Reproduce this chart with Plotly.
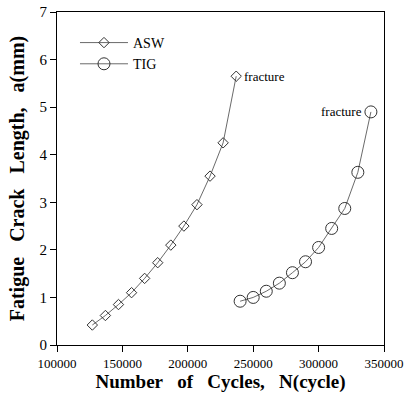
import plotly.graph_objects as go

asw_cycles = [127000, 137000, 147000, 157000, 167000, 177000, 187000, 197000, 207000, 217000, 227000, 237000]
asw_crack = [0.42, 0.62, 0.85, 1.10, 1.40, 1.73, 2.10, 2.50, 2.95, 3.55, 4.25, 5.65]
tig_cycles = [240000, 250000, 260000, 270000, 280000, 290000, 300000, 310000, 320000, 330000, 340000]
tig_crack = [0.92, 1.00, 1.13, 1.30, 1.52, 1.75, 2.05, 2.45, 2.87, 3.63, 4.90]
x_ticks = [100000, 150000, 200000, 250000, 300000, 350000]
y_ticks = [0, 1, 2, 3, 4, 5, 6, 7]

serif = "Liberation Serif, Times New Roman, serif"
sp = "&nbsp;&nbsp; "

fig = go.Figure()
fig.add_trace(go.Scatter(
    x=asw_cycles, y=asw_crack, name="ASW", mode="lines+markers",
    line=dict(color="#444", width=0.8),
    marker=dict(symbol="diamond-open", size=8, color="#333", line=dict(width=1)),
))
fig.add_trace(go.Scatter(
    x=tig_cycles, y=tig_crack, name="TIG", mode="lines+markers",
    line=dict(color="#444", width=0.8),
    marker=dict(symbol="circle-open", size=12, color="#333", line=dict(width=1)),
))

fig.add_annotation(x=asw_cycles[-1], y=asw_crack[-1], text="fracture", showarrow=False,
                   xanchor="left", xshift=6, font=dict(family=serif, size=13, color="black"))
fig.add_annotation(x=tig_cycles[-1], y=tig_crack[-1], text="fracture", showarrow=False,
                   xanchor="right", xshift=-7, font=dict(family=serif, size=13, color="black"))

axis_common = dict(
    showline=True, linecolor="black", linewidth=1, mirror=True, automargin=False,
    ticks="outside", ticklen=6, tickcolor="black", showgrid=False, zeroline=False,
)
fig.update_xaxes(range=[100000, 350000], tickvals=x_ticks, tickformat="d",
                 tickfont=dict(family=serif, size=13, color="black"),
                 title=dict(text="<b>Number" + sp + "of" + sp + "Cycles," + sp + "N(cycle)</b>",
                            font=dict(family=serif, size=19, color="black"), standoff=3),
                 **axis_common)
fig.update_yaxes(range=[0, 7], tickvals=y_ticks,
                 tickfont=dict(family=serif, size=15, color="black"),
                 title=dict(text="<b>Fatigue" + sp + "Crack" + sp + "Length," + sp + "a(mm)</b>",
                            font=dict(family=serif, size=20, color="black"), standoff=9),
                 **axis_common)

fig.update_layout(
    width=410, height=402,
    margin=dict(l=57, r=26, t=12, b=57),
    plot_bgcolor="white", paper_bgcolor="white",
    showlegend=True,
    legend=dict(x=0.055, y=0.955, xanchor="left", yanchor="top",
                bgcolor="rgba(0,0,0,0)", font=dict(family=serif, size=14, color="black"),
                itemwidth=48, tracegroupgap=0),
)

fig.write_html(
    "out.html",
    config={"displayModeBar": False},
    post_script="document.body.style.margin='0';document.body.style.overflow='hidden';",
)
